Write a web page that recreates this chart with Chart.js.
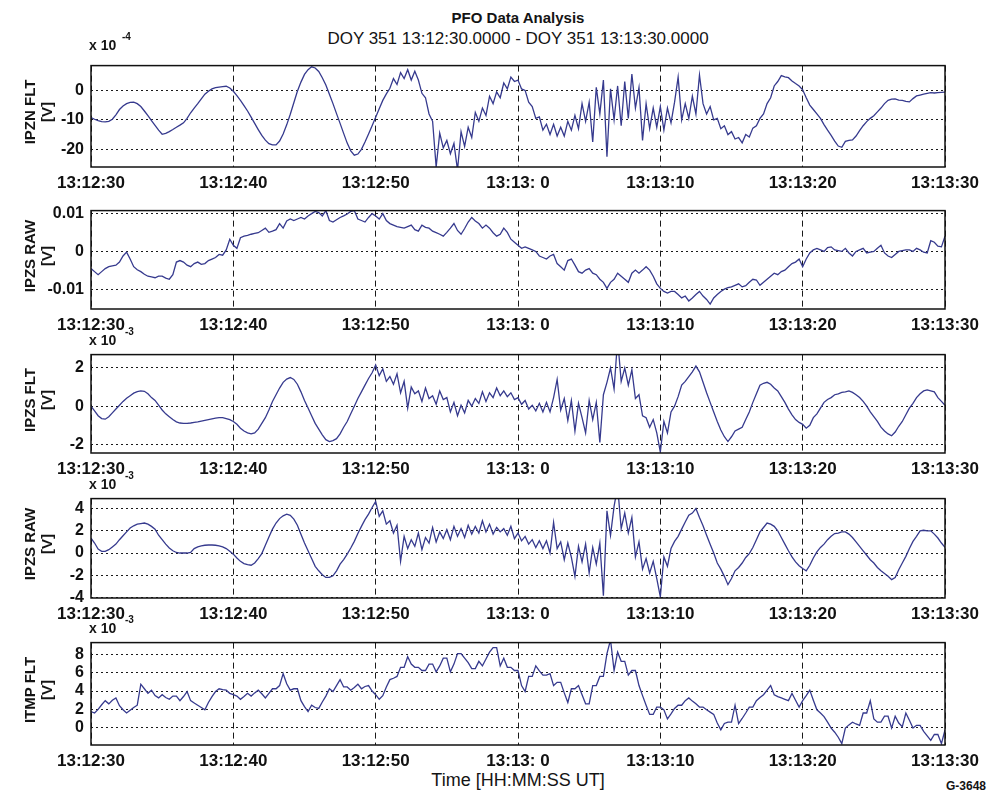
<!DOCTYPE html>
<html>
<head>
<meta charset="utf-8">
<title>PFO Data Analysis</title>
<script src="https://cdn.jsdelivr.net/npm/chart.js@4.4.1/dist/chart.umd.min.js"></script>
<style>
  html, body { margin: 0; padding: 0; background: #fff; }
  #page { position: relative; width: 988px; height: 795px; overflow: hidden; background: #fff;
          font-family: "Liberation Sans", Arial, Helvetica, sans-serif; color: #141414; }
  #page canvas { position: absolute; left: 0; }
  .txt { position: absolute; white-space: nowrap; line-height: 1; }
  .ytitle { position: absolute; white-space: nowrap; font-weight: bold; font-size: 15px; line-height: 1;
            transform: translate(-50%, -50%) rotate(-90deg); }
</style>
</head>
<body>
<div id="page">
  <div class="txt" style="left:0;width:1036px;top:10px;text-align:center;font-weight:bold;font-size:15px;">PFO Data Analysis</div>
  <div class="txt" style="left:0;width:1036px;top:30px;text-align:center;font-size:17px;">DOY 351 13:12:30.0000 - DOY 351 13:13:30.0000</div>
  <div class="txt" style="left:0;width:1036px;top:771px;text-align:center;font-size:18px;">Time [HH:MM:SS UT]</div>
  <div class="txt" style="left:946px;top:780px;font-size:12px;font-weight:bold;">G-3648</div>
</div>
<script>
// Time axis: one minute of samples starting at 13:12:30 UT
const SAMPLE_STEP_S = 0.25;
const TIME_TICKS_S = [0, 10, 20, 30, 40, 50, 60];
const TIME_LABELS = ['13:12:30', '13:12:40', '13:12:50', '13:13: 0', '13:13:10', '13:13:20', '13:13:30'];

// IPZN FLT, units of 1e-4 V
const ipznFlt = [
  -9.2, -9.8, -10.3, -10.6,  -10.7, -10.5, -9.8, -8.3,  -6.5, -5.3, -4.5, -4.1,  -4.0, -4.5, -5.5, -7.0,
  -8.6, -10.3, -11.9, -13.5,  -14.9, -14.6, -14.0, -13.3,  -12.5, -11.8, -11.0, -9.5,  -7.6, -6.0, -4.5, -2.9,
  -1.3, -0.3, 0.5, 0.9,  1.1, 1.3, 1.4, 0.8,  -0.3, -1.8, -3.4, -5.2,  -7.0, -9.1, -11.2, -13.3,
  -15.3, -16.9, -18.1, -18.5,  -18.5, -17.2, -14.8, -11.7,  -8.1, -4.2, -0.3, 2.8,  5.4, 7.0, 8.0, 7.6,
  6.4, 4.3, 1.8, -1.3,  -4.5, -7.9, -11.2, -14.6,  -17.9, -20.5, -22.0, -21.6,  -20.0, -17.5, -14.8, -12.0,
  -9.1, -6.2, -3.4, -1.2,  0.7, 4.0, 2.0, 6.0,  4.0, 7.0, 3.5, 6.5,  3.5, -1.0, -2.5, -8.0,
  -10.5, -26.0, -14.5, -19.5,  -17.0, -21.5, -18.0, -27.0,  -14.0, -19.0, -12.5, -16.0,  -7.5, -10.5, -6.0, -8.5,
  -2.0, -4.5, -0.5, -2.5,  2.5, 0.5, 4.5, 3.0,  3.5, 0.5, 0.0, -4.0,  -5.5, -9.5, -9.0, -13.5,
  -11.5, -15.0, -11.5, -15.5,  -12.5, -15.5, -10.5, -13.5,  -8.5, -13.0, -4.5, -10.5,  -4.0, -17.5, 1.0, -8.0,
  3.5, -22.5, 0.5, -10.0,  1.5, -12.0, 3.0, -9.5,  5.5, -6.0, 1.0, -17.0,  -4.5, -13.0, -6.0, -12.5,
  -5.5, -13.5, -6.0, -11.0,  -4.0, 4.5, -10.0, -4.5,  -9.5, -2.0, -8.0, 5.2,  -4.5, -8.0, -5.5, -10.0,
  -9.5, -13.0, -12.0, -15.0,  -14.0, -16.5, -16.0, -17.8,  -15.0, -15.8, -12.8, -12.0,  -9.5, -8.0, -4.5, -2.5,
  1.5, 3.0, 5.0, 4.6,  4.3, 3.2, 2.3, 1.5,  0.2, -2.5, -5.0, -6.5,  -8.0, -9.5, -11.6, -13.5,
  -15.3, -17.2, -18.9, -19.3,  -17.3, -17.0, -16.8, -15.5,  -13.7, -12.0, -10.6, -9.5,  -8.6, -7.3, -6.0, -4.5,
  -3.4, -3.0, -2.9, -3.3,  -3.4, -3.7, -3.9, -2.8,  -1.9, -1.6, -1.3, -1.0,  -0.8, -0.9, -0.8, -0.7,
  -0.6
];

// IPZS RAW (upper panel), millivolts
const ipzsRawMv = [
  -4.5, -5.3, -6.1, -5.3,  -4.5, -4.0, -3.8, -3.6,  -2.8, -1.2, -0.2, -2.0,  -4.0, -4.8, -5.3, -6.0,
  -6.5, -6.7, -6.9, -6.5,  -6.5, -7.0, -7.3, -6.1,  -2.8, -2.4, -2.8, -3.6,  -4.0, -3.2, -2.8, -3.4,
  -3.2, -2.4, -2.0, -1.6,  -0.8, -1.0, 0.4, 3.2,  1.6, 0.8, 3.6, 4.0,  4.2, 4.5, 4.7, 4.9,
  5.5, 6.1, 5.0, 5.3,  5.7, 7.3, 6.1, 8.0,  8.5, 8.1, 8.5, 8.9,  8.5, 9.3, 9.9, 10.5,
  10.2, 9.3, 10.7, 8.1,  7.7, 8.3, 8.9, 9.3,  9.8, 10.5, 10.7, 8.5,  8.1, 7.7, 8.9, 9.9,
  9.3, 8.5, 9.9, 8.1,  7.3, 6.9, 6.5, 6.3,  6.1, 6.5, 6.9, 5.7,  5.3, 6.9, 6.3, 6.1,
  5.3, 4.9, 4.5, 4.0,  5.0, 6.1, 7.3, 5.5,  4.5, 6.0, 7.7, 8.9,  8.0, 7.3, 6.1, 6.9,
  6.1, 4.9, 4.0, 4.5,  6.1, 5.0, 3.2, 2.4,  1.6, 0.8, 1.2, 0.8,  0.4, 0.0, -1.2, -1.6,
  -2.0, -1.2, -0.8, -3.2,  -4.0, -4.9, -2.4, -2.0,  -3.6, -5.3, -5.7, -4.9,  -4.5, -5.7, -6.1, -7.3,
  -8.1, -9.7, -8.1, -7.3,  -5.7, -6.5, -7.3, -8.1,  -5.7, -4.9, -5.7, -4.9,  -4.0, -4.9, -6.5, -8.5,
  -9.7, -10.5, -10.9, -10.5,  -10.5, -11.3, -12.2, -11.7,  -13.0, -12.2, -11.3, -10.5,  -11.7, -12.6, -13.8, -12.2,
  -11.3, -10.5, -9.9, -9.5,  -9.3, -8.9, -8.5, -9.3,  -9.0, -8.1, -7.3, -7.5,  -8.9, -8.1, -7.3, -6.5,
  -5.7, -6.1, -5.3, -4.9,  -4.0, -3.2, -2.8, -2.0,  -4.0, -2.0, -0.4, 0.4,  0.8, 0.4, 0.0, 1.0,
  1.2, 0.4, 0.2, 0.0,  0.8, -0.4, -1.2, 0.0,  0.4, 0.8, -0.4, -0.2,  0.0, 0.8, 1.6, -0.4,
  -1.2, -1.6, -0.8, 0.0,  0.2, 0.4, 0.4, 0.0,  0.8, 0.4, -0.2, -0.4,  2.8, 2.4, 1.4, 1.2,
  4.0
];

// IPZS FLT, units of 1e-3 V
const ipzsFlt = [
  0.00, -0.25, -0.50, -0.65,  -0.68, -0.55, -0.35, -0.15,  0.05, 0.25, 0.42, 0.55,  0.68, 0.76, 0.80, 0.78,
  0.65, 0.45, 0.30, 0.05,  -0.20, -0.40, -0.55, -0.70,  -0.82, -0.88, -0.90, -0.90,  -0.88, -0.85, -0.82, -0.78,
  -0.74, -0.70, -0.66, -0.62,  -0.60, -0.60, -0.65, -0.70,  -0.80, -0.95, -1.15, -1.30,  -1.40, -1.45, -1.40, -1.20,
  -0.90, -0.60, -0.20, 0.25,  0.60, 0.95, 1.25, 1.42,  1.50, 1.40, 1.15, 0.75,  0.30, -0.10, -0.50, -0.90,
  -1.20, -1.50, -1.75, -1.85,  -1.80, -1.70, -1.45, -1.10,  -0.80, -0.40, 0.00, 0.40,  0.75, 1.10, 1.45, 1.75,
  2.15, 1.60, 1.95, 1.30,  1.55, 1.15, 1.70, 0.70,  1.30, -0.10, 1.00, 0.65,  0.80, 0.25, 0.95, 0.40,
  0.55, 0.10, 0.80, 0.35,  0.45, -0.30, 0.20, -0.50,  0.05, -0.35, 0.30, 0.00,  0.40, 0.15, 0.75, 0.25,
  0.70, 0.45, 0.95, 0.55,  0.80, 0.50, 0.70, 0.35,  0.45, 0.10, 0.30, -0.15,  0.05, -0.25, 0.15, -0.30,
  0.20, -0.30, 0.45, 1.40,  -0.20, 0.40, -0.75, 0.30,  -1.30, 0.15, -0.60, -1.40,  0.30, -0.70, 0.20, -1.90,
  0.60, 1.25, 2.00, 0.90,  3.50, 1.30, 2.00, 1.10,  1.90, 0.40, 0.60, -0.50,  -0.60, -1.10, -0.70, -1.40,
  -2.40, -0.80, -1.40, -0.30,  0.00, 0.50, 1.10, 1.30,  1.55, 1.80, 2.10, 1.80,  1.25, 0.70, 0.20, -0.30,
  -0.80, -1.25, -1.60, -1.85,  -1.60, -1.30, -1.20, -1.10,  -0.70, -0.30, 0.20, 0.65,  1.10, 1.20, 1.25, 1.15,
  0.95, 0.80, 0.50, 0.20,  -0.15, -0.45, -0.70, -0.85,  -0.95, -1.15, -1.00, -0.60,  -0.40, -0.10, 0.20, 0.35,
  0.45, 0.60, 0.65, 0.72,  0.75, 0.80, 0.72, 0.60,  0.45, 0.25, 0.00, -0.30,  -0.55, -0.80, -1.10, -1.30,
  -1.45, -1.55, -1.35, -1.05,  -0.80, -0.45, -0.10, 0.15,  0.45, 0.65, 0.80, 0.85,  0.80, 0.75, 0.45, 0.25,
  0.05
];

// IPZS RAW (lower panel), units of 1e-3 V
const ipzsRaw = [
  1.35, 0.90, 0.35, 0.15,  0.15, 0.30, 0.55, 0.80,  1.20, 1.55, 1.90, 2.25,  2.45, 2.60, 2.65, 2.70,
  2.60, 2.40, 2.15, 1.60,  1.20, 0.80, 0.45, 0.20,  0.05, 0.00, 0.00, 0.00,  0.05, 0.40, 0.55, 0.65,
  0.70, 0.72, 0.72, 0.70,  0.65, 0.55, 0.40, 0.15,  -0.10, -0.45, -0.75, -0.95,  -1.05, -1.10, -0.90, -0.50,
  -0.05, 0.70, 1.45, 2.15,  2.70, 3.10, 3.35, 3.50,  3.40, 3.05, 2.50, 1.70,  0.90, 0.20, -0.50, -1.20,
  -1.60, -1.95, -2.20, -2.20,  -2.05, -1.60, -1.00, -0.60,  -0.10, 0.45, 1.05, 1.75,  2.40, 3.00, 3.50, 4.10,
  4.65, 3.30, 3.80, 2.60,  2.90, 1.80, 2.50, -0.75,  1.50, 0.40, 1.20, 0.60,  1.80, 0.30, 1.40, 0.90,
  2.30, 1.00, 1.90, 1.30,  2.10, 1.20, 2.40, 1.50,  2.20, 1.40, 2.50, 1.70,  2.40, 1.80, 2.90, 1.90,
  2.60, 1.70, 2.30, 1.90,  2.20, 1.60, 2.40, 1.30,  1.80, 1.10, 1.50, 0.80,  1.20, 0.50, 1.10, 0.40,
  1.10, 0.00, 2.75, 0.40,  1.00, -0.60, 0.90, -0.40,  -2.10, 0.60, -0.80, 0.80,  -1.80, 0.50, -1.00, 0.90,
  -3.85, 3.80, 1.60, 4.20,  6.00, 2.20, 3.60, 1.80,  3.20, -0.35, 1.00, -1.45,  -0.50, -1.80, -0.75, -2.30,
  -3.95, -0.35, -1.20, 0.40,  1.05, 1.50, 2.15, 2.80,  3.40, 3.60, 4.00, 3.20,  2.45, 1.60, 0.80, 0.00,
  -0.90, -1.45, -2.10, -2.85,  -2.30, -1.60, -1.30, -0.90,  -0.40, -0.05, 0.50, 1.20,  1.90, 2.30, 2.70, 2.60,
  2.40, 2.00, 1.40, 0.80,  0.20, -0.35, -0.80, -1.15,  -1.40, -1.60, -1.10, -0.45,  0.10, 0.50, 0.80, 1.20,
  1.50, 1.75, 1.80, 1.90,  1.90, 1.70, 1.40, 1.00,  0.60, 0.20, -0.20, -0.60,  -0.90, -1.30, -1.60, -1.85,
  -2.10, -2.40, -2.20, -1.50,  -0.90, -0.30, 0.40, 1.05,  1.50, 2.00, 2.05, 2.00,  2.00, 1.70, 1.35, 0.90,
  0.50
];

// ITMP FLT, units of 1e-3 V
const itmpFlt = [
  1.75, 1.60, 2.00, 2.50,  2.95, 2.60, 3.00, 3.25,  2.40, 1.95, 1.60, 1.90,  2.20, 2.45, 4.75, 4.25,
  3.75, 4.10, 3.50, 3.25,  3.60, 3.30, 3.10, 3.45,  3.45, 2.95, 3.40, 3.95,  2.95, 2.70, 2.45, 2.20,
  1.95, 2.75, 3.40, 3.95,  4.25, 4.15, 4.10, 3.75,  3.60, 3.45, 3.10, 3.40,  3.75, 3.45, 3.80, 4.10,
  3.70, 3.25, 3.75, 4.25,  4.25, 4.60, 5.90, 4.80,  4.10, 4.25, 4.25, 2.95,  2.30, 1.75, 2.45, 2.20,
  2.10, 2.80, 3.45, 4.25,  3.95, 4.60, 5.25, 4.45,  4.45, 4.10, 4.40, 4.75,  4.25, 4.50, 4.60, 4.00,
  3.60, 3.10, 3.50, 4.45,  5.25, 5.40, 5.60, 6.60,  6.60, 7.75, 6.95, 6.60,  6.60, 6.25, 6.25, 6.95,
  6.95, 6.10, 6.75, 7.60,  7.60, 6.10, 6.95, 8.10,  8.10, 7.60, 7.10, 6.45,  6.45, 7.25, 6.75, 7.50,
  8.25, 8.75, 8.75, 6.75,  7.60, 6.60, 6.60, 6.25,  6.25, 4.60, 3.95, 5.60,  5.60, 6.75, 6.20, 5.75,
  5.75, 5.90, 4.60, 4.95,  4.95, 3.80, 2.75, 4.25,  4.25, 4.60, 3.60, 2.60,  2.60, 4.60, 4.60, 5.60,
  5.60, 8.10, 9.60, 6.25,  8.25, 7.25, 7.25, 5.75,  6.25, 6.25, 4.60, 3.50,  2.45, 1.45, 1.45, 2.25,
  2.25, 1.95, 0.95, 1.50,  2.10, 2.45, 2.45, 2.95,  3.25, 2.90, 2.60, 2.25,  2.25, 1.95, 1.70, 1.45,
  0.50, -0.25, 0.45, 0.60,  0.60, 2.45, 0.45, 1.00,  1.60, 2.25, 2.25, 2.95,  3.30, 3.60, 4.10, 4.60,
  3.60, 3.40, 3.25, 3.10,  2.95, 3.75, 3.00, 2.25,  2.95, 3.50, 4.10, 3.00,  1.95, 1.60, 1.20, 0.60,
  -0.05, -0.50, -1.05, -1.75,  -0.05, 0.30, 0.60, 0.40,  0.25, 1.60, 1.60, 2.95,  0.95, 0.60, 0.60, 1.25,
  1.25, -0.05, 1.25, 0.50,  0.10, 1.60, 0.80, -0.05,  0.25, 0.25, -0.40, -0.90,  -1.40, -0.75, -0.75, -1.75,
  -0.25
];

// Tick values on each panel's value axis (same units as the series)
const ipznTicks = [-20, -10, 0];
const ipzsRawMvTicks = [-10, 0, 10];
const ipzsFltTicks = [-2, 0, 2];
const ipzsRawTicks = [-4, -2, 0, 2, 4];
const itmpTicks = [0, 2, 4, 6, 8];

const FONT = '"Liberation Sans", Arial, Helvetica, sans-serif';
const LINE_COLOR = '#363a8e';
const PLOT_LEFT = 91, PLOT_RIGHT = 945, PAGE_W = 988;

// Panel stacking and axis ranges
const panels = [
  { name: 'IPZN FLT', values: ipznFlt,  ticks: ipznTicks,      min: -26,   max: 8.4,  top: 57,  bottom: 167, exp: '-4',
    fmt: v => String(v) },
  { name: 'IPZS RAW', values: ipzsRawMv, ticks: ipzsRawMvTicks, min: -15.1, max: 10.7, top: 202, bottom: 309, exp: null,
    fmt: v => v === 0 ? '0' : (v / 1000).toFixed(2) },
  { name: 'IPZS FLT', values: ipzsFlt,  ticks: ipzsFltTicks,   min: -2.45, max: 2.7,  top: 346, bottom: 453, exp: '-3',
    fmt: v => String(v) },
  { name: 'IPZS RAW', values: ipzsRaw,  ticks: ipzsRawTicks,   min: -4.05, max: 4.9,  top: 490, bottom: 598, exp: '-3',
    fmt: v => String(v) },
  { name: 'ITMP FLT', values: itmpFlt,  ticks: itmpTicks,      min: -1.9,  max: 9.3,  top: 634, bottom: 745, exp: '-3',
    fmt: v => String(v) }
];

// Closed box around each plot area
const framePlugin = {
  id: 'frame',
  afterDraw(chart) {
    const { ctx, chartArea: a } = chart;
    ctx.save();
    ctx.strokeStyle = '#111';
    ctx.lineWidth = 1.5;
    ctx.strokeRect(a.left, a.top, a.right - a.left, a.bottom - a.top);
    ctx.restore();
  }
};

const page = document.getElementById('page');

function addText(html, style, cls) {
  const d = document.createElement('div');
  d.className = cls || 'txt';
  d.innerHTML = html;
  Object.assign(d.style, style);
  page.appendChild(d);
}

panels.forEach((p, idx) => {
  const padTop = 8, axisH = 30;
  const h = (p.bottom - p.top) + padTop + axisH;
  const canvas = document.createElement('canvas');
  canvas.width = PAGE_W;
  canvas.height = h;
  canvas.style.top = (p.top - padTop) + 'px';
  canvas.style.width = PAGE_W + 'px';
  canvas.style.height = h + 'px';
  page.appendChild(canvas);

  const points = p.values.map((v, i) => ({ x: i * SAMPLE_STEP_S, y: v }));

  new Chart(canvas, {
    type: 'line',
    data: { datasets: [{ data: points, borderColor: LINE_COLOR, borderWidth: 1.3, pointRadius: 0,
                         tension: 0, fill: false }] },
    options: {
      responsive: false, animation: false, devicePixelRatio: 1,
      layout: { padding: { top: padTop, right: PAGE_W - PLOT_RIGHT, bottom: 0, left: 0 } },
      plugins: { legend: { display: false }, tooltip: { enabled: false }, title: { display: false } },
      scales: {
        x: {
          type: 'linear', min: 0, max: 60,
          afterBuildTicks: s => { s.ticks = TIME_TICKS_S.map(v => ({ value: v })); },
          afterFit: s => { s.height = axisH; },
          grid: { color: '#1a1a1a', lineWidth: 1, drawTicks: false },
          border: { display: false, dash: [6, 4] },
          ticks: { autoSkip: false, maxRotation: 0, minRotation: 0, padding: 6, color: '#111',
                   font: { family: FONT, size: 17, weight: 'bold' },
                   callback: v => TIME_LABELS[TIME_TICKS_S.indexOf(v)] }
        },
        y: {
          type: 'linear', min: p.min, max: p.max,
          afterBuildTicks: s => { s.ticks = p.ticks.map(v => ({ value: v })); },
          afterFit: s => { s.width = PLOT_LEFT; },
          grid: { color: '#1a1a1a', lineWidth: 1, drawTicks: false },
          border: { display: false, dash: [2, 3] },
          ticks: { padding: 7, color: '#111', font: { family: FONT, size: 16, weight: 'bold' },
                   callback: v => p.fmt(v) }
        }
      }
    },
    plugins: [framePlugin]
  });

  // Rotated axis title: channel name and unit
  const cy = (p.top + p.bottom) / 2 + 'px';
  addText(p.name, { left: '29px', top: cy }, 'ytitle');
  addText('[V]', { left: '46px', top: cy }, 'ytitle');

  // Scale exponent above the plot
  if (p.exp) {
    const base = idx === 0 ? p.top - 19 : p.top - 13;
    addText('x 10', { left: '89px', top: base + 'px', fontSize: '14px', fontWeight: 'bold' });
    addText(p.exp, { left: idx === 0 ? '122px' : '125px', top: (base - 6) + 'px', fontSize: '10px', fontWeight: 'bold' });
  }
});
</script>
</body>
</html>
